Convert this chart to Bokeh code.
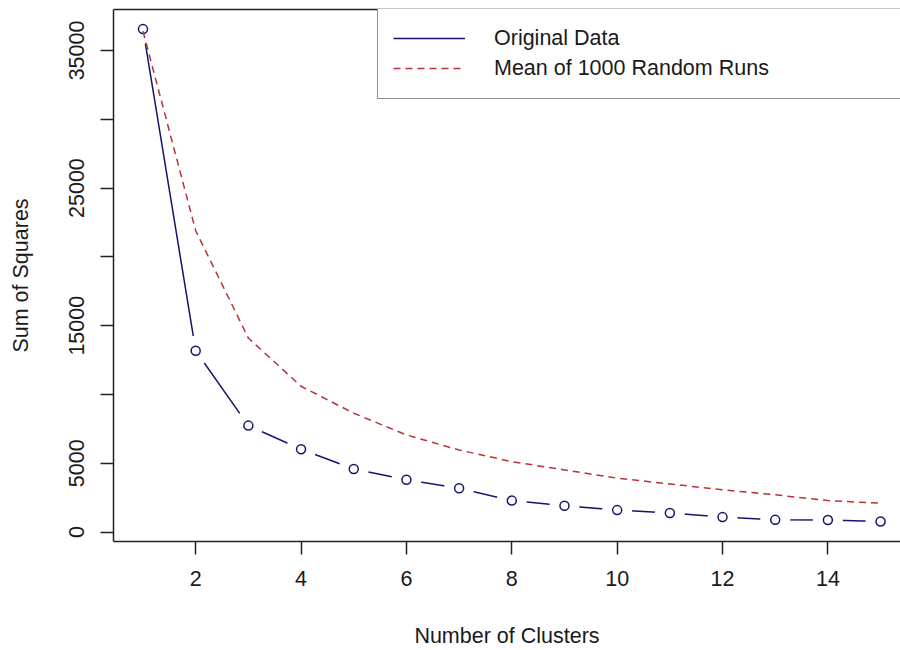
from bokeh.plotting import figure
from bokeh.models import (Range1d, FixedTicker, LinearAxis, Legend, LegendItem,
                          ColumnDataSource)
from bokeh.embed import file_html
from bokeh.resources import INLINE

# ---- data ----
clusters = [1, 2, 3, 4, 5, 6, 7, 8, 9, 10, 11, 12, 13, 14, 15]
original_ss = [36550, 13180, 7740, 6020, 4590, 3800, 3190, 2290, 1910, 1600,
               1390, 1090, 890, 880, 770]
random_mean_ss = [36400, 21900, 14100, 10600, 8640, 7060, 5970, 5120, 4520,
                  3920, 3500, 3070, 2710, 2290, 2100]
y_ticks = [0, 5000, 10000, 15000, 20000, 25000, 30000, 35000]
y_labels_shown = [0, 5000, 15000, 25000, 35000]
x_ticks = [2, 4, 6, 8, 10, 12, 14]

FONT = "Liberation Sans"
FS = "21.5px"
TXT = "#1a1a1a"
AX = "#222222"
BLUE = "#14146e"
RED = "#b8323a"

src = ColumnDataSource(dict(x=clusters, orig=original_ss, rnd=random_mean_ss))

p = figure(width=900, height=650, output_backend="svg", toolbar_location=None,
           x_range=Range1d(0.44, 15.378), y_range=Range1d(-682, 37975),
           min_border_left=113, min_border_right=0, min_border_top=9,
           min_border_bottom=108, x_axis_label="Number of Clusters",
           y_axis_label="Sum of Squares")
p.background_fill_color = "white"
p.border_fill_color = "white"
p.outline_line_color = None
p.grid.visible = False

# axes
for ax in (p.xaxis[0], p.yaxis[0]):
    ax.axis_line_color = AX
    ax.axis_line_width = 1.5
    ax.major_tick_line_color = AX
    ax.major_tick_line_width = 1.5
    ax.major_tick_out = 13
    ax.major_tick_in = 0
    ax.minor_tick_line_color = None
    ax.major_label_text_font = FONT
    ax.major_label_text_font_size = FS
    ax.major_label_text_color = TXT
    ax.axis_label_text_font = FONT
    ax.axis_label_text_font_size = FS
    ax.axis_label_text_font_style = "normal"
    ax.axis_label_text_color = TXT

p.xaxis.ticker = FixedTicker(ticks=x_ticks)
p.xaxis.major_label_standoff = 16
p.xaxis.axis_label_standoff = 35

p.yaxis.ticker = FixedTicker(ticks=y_ticks)
p.yaxis.major_label_overrides = {t: ("" if t not in y_labels_shown else str(t))
                                 for t in y_ticks}
p.yaxis.major_label_orientation = "vertical"
p.yaxis.major_label_standoff = 16
p.yaxis.axis_label_standoff = 34

top_axis = LinearAxis(ticker=FixedTicker(ticks=[]), major_tick_out=0,
                      major_tick_in=0, minor_tick_out=0, minor_tick_in=0,
                      major_label_standoff=0, major_label_text_font_size="0px",
                      axis_line_color=AX, axis_line_width=1.5)
p.add_layout(top_axis, "above")

# original data: type "b" (line with gaps at points)
blue_line = p.line("x", "orig", source=src, line_color=BLUE, line_width=1.5)
p.scatter("x", "orig", source=src, size=30, fill_color="white",
          line_color=None)
p.scatter("x", "orig", source=src, size=9, marker="circle",
          fill_color=None, line_color=BLUE, line_width=1.5)

# mean of random runs
red_line = p.line("x", "rnd", source=src, line_color=RED, line_width=1.5,
                  line_dash="7 5")

legend = Legend(items=[LegendItem(label="Original Data", renderers=[blue_line]),
                       LegendItem(label="Mean of 1000 Random Runs",
                                  renderers=[red_line])],
                location=(264, 442), orientation="vertical",
                padding=15, spacing=0, glyph_width=72, glyph_height=30,
                label_height=30, label_width=420, label_standoff=29,
                label_text_font=FONT, label_text_font_size=FS,
                label_text_color=TXT, border_line_color=AX,
                border_line_width=1.5, background_fill_color="white",
                background_fill_alpha=1.0, margin=0)
p.add_layout(legend, "center")

open("out.html", "w").write(file_html(p, INLINE))
